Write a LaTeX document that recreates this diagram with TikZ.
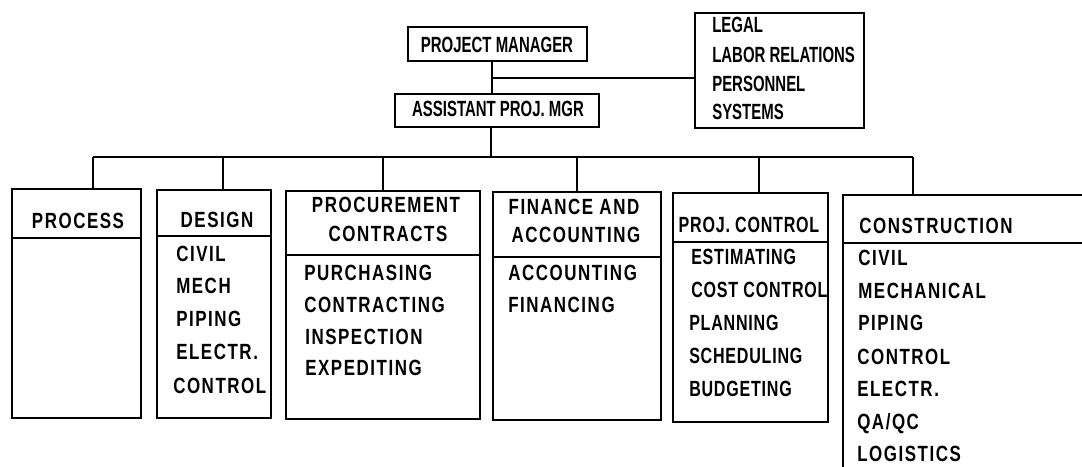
\documentclass[tikz,border=0pt]{standalone}
\usepackage{fontspec}
\usetikzlibrary{fit}
\newfontfamily\fLow[FakeStretch=0.77,LetterSpace=7]{Liberation Sans}
\newfontfamily\fTop[FakeStretch=0.68]{Liberation Sans}
\newfontfamily\fPc[FakeStretch=0.73,LetterSpace=3.5]{Liberation Sans}
\newcommand{\lowf}{\fLow\bfseries\fontsize{16.5}{19}\selectfont}
\newcommand{\topf}{\fTop\bfseries\fontsize{16.5}{19}\selectfont}
\newcommand{\pcf}{\fPc\bfseries\fontsize{16.5}{19}\selectfont}
\tikzset{
  box/.style={draw, line width=1.3pt, inner sep=0pt},
  ln/.style={line width=1.3pt},
  txt/.style={inner sep=0pt, text height=11.8pt, text depth=0pt},
  lbl/.style={txt, anchor=west, font=\lowf},
  ttl/.style={txt, font=\lowf},
  tlbl/.style={txt, anchor=west, font=\topf},
  pclbl/.style={txt, anchor=west, font=\pcf}
}
\begin{document}
\begin{tikzpicture}[x=0.75pt,y=-0.75pt]
\useasboundingbox (0,0) rectangle (1082,467);
% top boxes
\node[box, fit={(408,27)(587,61)}] (pm) {};
\node[txt, font=\topf] (pmt) at (497,45) {PROJECT MANAGER};
\node[box, fit={(395,94)(599,127)}] (apm) {};
\node[txt, font=\topf] (apmt) at (498,109) {ASSISTANT PROJ. MGR};
\node[box, fit={(695,13)(864,128)}] (rb) {};
\node[tlbl] (rb1) at (712,25) {LEGAL};
\node[tlbl] (rb2) at (712,55) {LABOR RELATIONS};
\node[tlbl] (rb3) at (712,84) {PERSONNEL};
\node[tlbl] (rb4) at (712,112) {SYSTEMS};
% lower boxes
\node[box, fit={(12,189)(141,418)}] (proc) {};
\node[box, fit={(157,190)(271,418)}] (des) {};
\node[box, fit={(286,191)(480,419)}] (pro) {};
\node[box, fit={(493,192)(661,420)}] (fin) {};
\node[box, fit={(673,193)(828,422)}] (pc) {};
\node[inner sep=0pt, fit={(843,195)(1082,467)}] (cons) {};
\draw[ln] (cons.north east) -- (cons.north west) -- (cons.south west);
% dividers
\draw[ln] (proc.west |- 0,238) -- (proc.east |- 0,238);
\draw[ln] (des.west |- 0,236) -- (des.east |- 0,236);
\draw[ln] (pro.west |- 0,255) -- (pro.east |- 0,255);
\draw[ln] (fin.west |- 0,257) -- (fin.east |- 0,257);
\draw[ln] (pc.west |- 0,242) -- (pc.east |- 0,242);
\draw[ln] (cons.west |- 0,243) -- (cons.east |- 0,243);
% titles
\node[ttl] (proct) at (78,221) {PROCESS};
\node[ttl] (dest) at (217,220) {DESIGN};
\node[ttl] (prot1) at (386,205) {PROCUREMENT};
\node[ttl] (prot2) at (388,234) {CONTRACTS};
\node[ttl] (fint1) at (574,207) {FINANCE AND};
\node[ttl] (fint2) at (576,235) {ACCOUNTING};
\node[txt, font=\pcf] (pct) at (749,225) {PROJ. CONTROL};
\node[lbl] (const) at (859,226) {CONSTRUCTION};
% design items
\node[lbl] (d1t) at (176,254) {CIVIL};
\node[lbl] (d2t) at (176,286) {MECH};
\node[lbl] (d3t) at (176,319) {PIPING};
\node[lbl] (d4t) at (176,352) {ELECTR.};
\node[lbl] (d5t) at (173,386) {CONTROL};
% procurement items
\node[lbl] (p1t) at (304,273) {PURCHASING};
\node[lbl] (p2t) at (304,305) {CONTRACTING};
\node[lbl] (p3t) at (305,337) {INSPECTION};
\node[lbl] (p4t) at (305,368) {EXPEDITING};
% finance items
\node[lbl] (f1t) at (508,273) {ACCOUNTING};
\node[lbl] (f2t) at (508,305) {FINANCING};
% proj control items
\node[pclbl] (c1t) at (691,257) {ESTIMATING};
\node[pclbl] (c2t) at (691,290) {COST CONTROL};
\node[pclbl] (c3t) at (689,323) {PLANNING};
\node[pclbl] (c4t) at (689,356) {SCHEDULING};
\node[pclbl] (c5t) at (689,389) {BUDGETING};
% construction items
\node[lbl] (k1t) at (858,258) {CIVIL};
\node[lbl] (k2t) at (858,291) {MECHANICAL};
\node[lbl] (k3t) at (858,323) {PIPING};
\node[lbl] (k4t) at (857,357) {CONTROL};
\node[lbl] (k5t) at (857,389) {ELECTR.};
\node[lbl] (k6t) at (857,422) {QA/QC};
\node[lbl] (k7t) at (857,454) {LOGISTICS};
% connectors
\coordinate (j) at (492,78);
\coordinate (bus) at (491,157);
\coordinate (b1) at (93,157);
\coordinate (b2) at (223,157);
\coordinate (b3) at (383,157);
\coordinate (b4) at (577,157);
\coordinate (b5) at (759,157);
\coordinate (b6) at (913,157);
\draw[ln] (j |- pm.south) -- (j |- apm.north);
\draw[ln] (j) -- (j -| rb.west);
\draw[ln] (bus |- apm.south) -- (bus);
\draw[ln] (b1) -- (b6);
\draw[ln] (b1) -- (b1 |- proc.north);
\draw[ln] (b2) -- (b2 |- des.north);
\draw[ln] (b3) -- (b3 |- pro.north);
\draw[ln] (b4) -- (b4 |- fin.north);
\draw[ln] (b5) -- (b5 |- pc.north);
\draw[ln] (b6) -- (b6 |- cons.north);
\end{tikzpicture}
\end{document}
